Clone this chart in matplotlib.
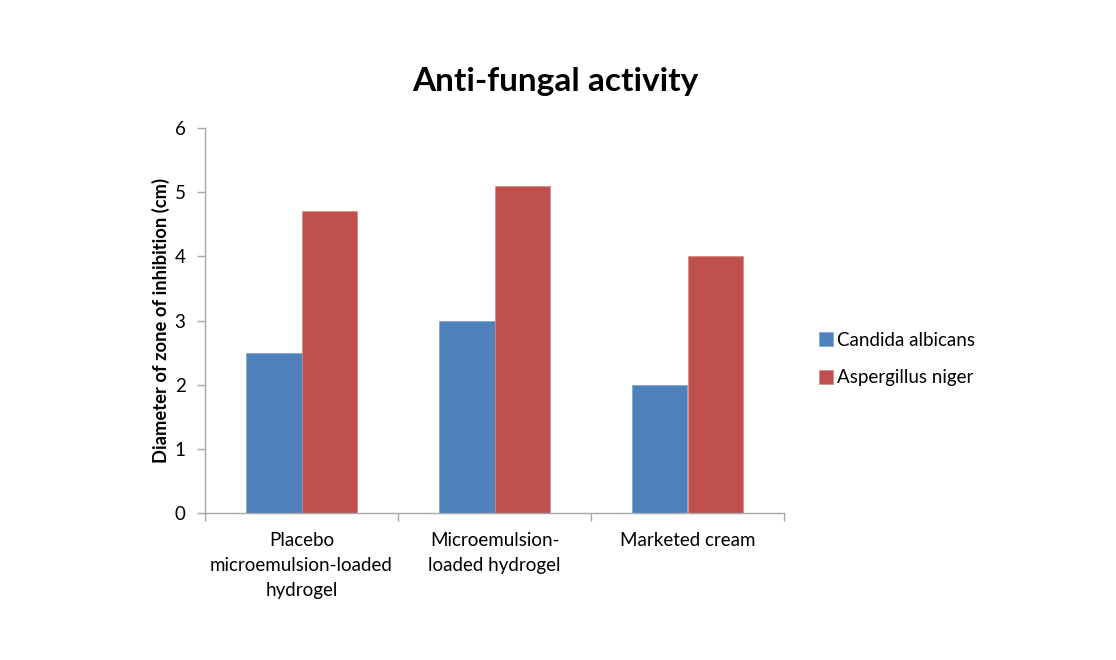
import matplotlib
matplotlib.use("Agg")
import matplotlib.pyplot as plt
import numpy as np

plt.rcParams['font.family'] = ['Lato', 'DejaVu Sans']

categories = ["Placebo\nmicroemulsion-loaded\nhydrogel", "Microemulsion-\nloaded hydrogel", "Marketed cream"]
series_names = ["Candida albicans", "Aspergillus niger"]
candida = [2.5, 3.0, 2.0]
aspergillus = [4.7, 5.1, 4.0]
colors = ["#4F81BD", "#C0504D"]
yticks = [0, 1, 2, 3, 4, 5, 6]

fig = plt.figure(figsize=(11.16, 6.6), dpi=100)
ax = fig.add_axes([205/1116, 1-513/660, (784-205)/1116, (513-128)/660])

x = np.arange(len(categories))
w = 0.285
ax.bar(x - w/2, candida, w, color=colors[0], label=series_names[0], edgecolor="#7fa3d0", linewidth=0.5)
ax.bar(x + w/2, aspergillus, w, color=colors[1], label=series_names[1], edgecolor="#d58785", linewidth=0.5)

ax.set_xlim(-0.5, len(categories) - 0.5)
ax.set_ylim(0, 6)
ax.set_yticks(yticks)
ax.set_yticklabels([str(v) for v in yticks], fontsize=13.5)
ax.set_xticks(x)
ax.set_xticklabels(categories, fontsize=13.5, linespacing=1.55)
ax.tick_params(axis='x', length=0, pad=14)
ax.set_xticks(np.arange(-0.5, len(categories)), minor=True)
ax.tick_params(axis='x', which='minor', length=6, color="#a6a6a6", width=1)
ax.tick_params(axis='y', length=6, color="#a6a6a6", width=1, pad=8)

for s in ["top", "right"]:
    ax.spines[s].set_visible(False)
for s in ["left", "bottom"]:
    ax.spines[s].set_color("#a6a6a6")
    ax.spines[s].set_linewidth(1)

ax.set_ylabel("Diameter of zone of inhibition (cm)", fontsize=13.2, fontweight='bold', labelpad=3)

fig.text(555/1116, 1-82/660, "Anti-fungal activity", fontsize=24, fontweight='bold', ha='center', va='center')

leg = fig.legend(loc='center left', bbox_to_anchor=(802/1116, 1-359/660), frameon=False,
                 fontsize=13.5, handlelength=0.75, handleheight=0.75, handletextpad=0.2,
                 labelspacing=1.1)

fig.savefig("out.png", dpi=100)
